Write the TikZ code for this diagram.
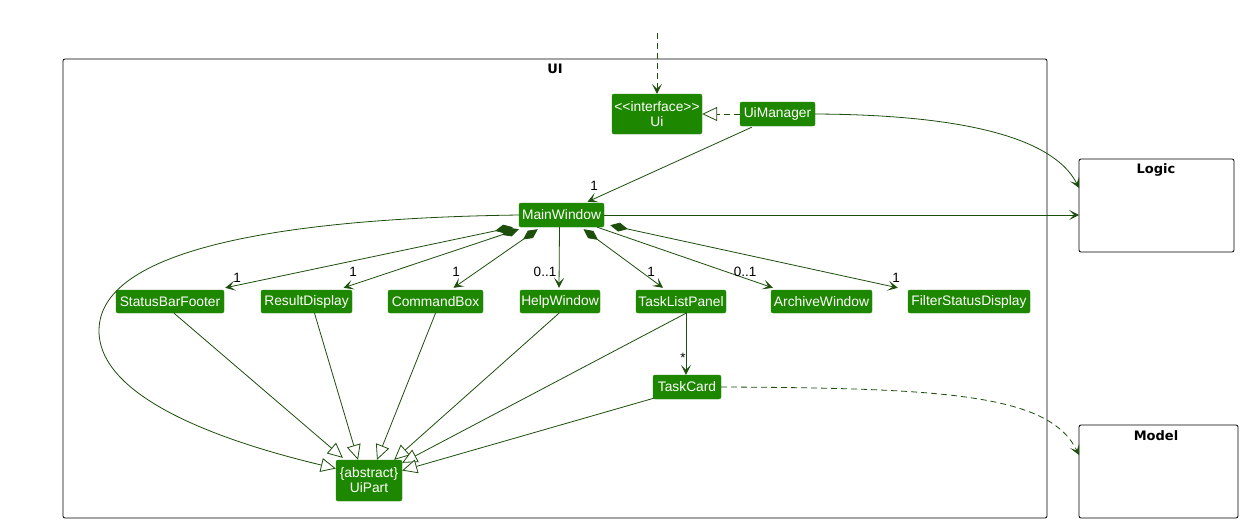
\documentclass[tikz,border=0pt]{standalone}
\usepackage{fontspec}
\setmainfont{Liberation Sans}
\newfontfamily\titlefont{DejaVu Sans}
\usetikzlibrary{arrows.meta,calc}
\definecolor{cfill}{RGB}{30,135,0}
\definecolor{cline}{RGB}{28,78,12}
\begin{document}
\begin{tikzpicture}[x=1pt,y=-1pt,
  cls/.style={draw=cfill, fill=cfill, text=white, rounded corners=2pt, inner sep=0pt,
    minimum height=24pt, font=\fontsize{13.8}{15}\selectfont, align=center},
  pkg/.style={draw=black, line width=0.8pt, rounded corners=2pt},
  ptitle/.style={font=\titlefont\fontsize{13}{15}\selectfont\bfseries, inner sep=0pt},
  mult/.style={font=\fontsize{13.5}{15}\selectfont, inner sep=0pt},
  con/.style={draw=cline, line width=0.8pt},
  assoc/.style={con, -{Stealth[length=10pt,width=10pt,inset=5pt]}},
  comp/.style={con, {Diamond[length=18pt,width=9pt]}-{Stealth[length=10pt,width=10pt,inset=5pt]}},
  inh/.style={con, -{Triangle[open,length=15pt,width=14pt,fill=white]}},
  real/.style={con, dash pattern=on 6pt off 4pt, -{Triangle[open,length=15pt,width=14pt,fill=white]}},
  dep/.style={con, dash pattern=on 6pt off 4pt, -{Stealth[length=10pt,width=10pt,inset=5pt]}}
]
\useasboundingbox (0,0) rectangle (1241,523);
\fill[white] (0,0) rectangle (1241,523);

% packages
\draw[pkg] (63,59) rectangle (1047,518);
\node[ptitle] (uit) at (555,69) {UI};
\draw[pkg] (1079,159) rectangle (1234,252);
\node[ptitle] (logict) at (1156,170) {Logic};
\draw[pkg] (1079,425) rectangle (1238,518);
\node[ptitle] (modelt) at (1156,436) {Model};
\coordinate (logicTop) at (1079,188);
\coordinate (logicMid) at (1079,215);
\coordinate (modelIn) at (1079,455);

% classes
\node[cls, minimum width=90pt, minimum height=40pt] (ui) at (657,114) {{<}{<}interface{>}{>}\\Ui};
\node[cls, minimum width=75pt] (uim) at (777.5,114) {UiManager};
\node[cls, minimum width=85pt] (mw) at (561.5,215) {MainWindow};
\node[cls, minimum width=108pt, minimum height=23pt] (sbf) at (170,301.5) {StatusBarFooter};
\node[cls, minimum width=91pt, minimum height=23pt] (rd) at (306.5,301.5) {ResultDisplay};
\node[cls, minimum width=95pt, minimum height=23pt] (cb) at (435.5,301.5) {CommandBox};
\node[cls, minimum width=80pt, minimum height=23pt] (hw) at (560,301.5) {HelpWindow};
\node[cls, minimum width=90pt, minimum height=23pt] (tlp) at (681,301.5) {TaskListPanel};
\node[cls, minimum width=101pt, minimum height=23pt] (aw) at (821.5,301.5) {ArchiveWindow};
\node[cls, minimum width=122pt, minimum height=23pt] (fsd) at (969,301.5) {FilterStatusDisplay};
\node[cls, minimum width=68pt] (tc) at (687,387) {TaskCard};
\node[cls, minimum width=66pt, minimum height=41pt] (up) at (369,480.5) {\{abstract\}\\UiPart};

% external dependency into Ui
\coordinate (ext) at (657,33);
\draw[dep] (ext) -- (ui.north);

% realization
\draw[real] (uim.west) -- (ui.east);

% UiManager -> MainWindow
\draw[assoc] ($(uim.south west)+(12,1)$) -- ($(mw.north)+(26,-1)$);
\node[mult] (m0) at (594,186) {1};

% UiManager -> Logic
\draw[assoc] (uim.east) .. controls (1000,115) and (1060,150) .. (logicTop);
% MainWindow -> Logic
\draw[assoc] (mw.east) -- (logicMid);

% compositions / associations from MainWindow
\draw[comp] ($(mw.south west)+(-6,0)$) -- ($(sbf.north east)+(1,-2)$);
\draw[comp] ($(mw.south west)+(0,2)$) -- ($(rd.north)+(37,-2)$);
\draw[comp] ($(mw.south west)+(19,2)$) -- ($(cb.north)+(18,-2)$);
\draw[assoc] ($(mw.south)+(-2,0)$) -- ($(hw.north)+(-1,-2)$);
\draw[comp] ($(mw.south)+(22,2)$) -- ($(tlp.north)+(-18,-2)$);
\draw[assoc] ($(mw.south east)+(-7,0)$) -- ($(aw.north west)+(2,-2)$);
\draw[comp] ($(mw.south east)+(6,-2)$) -- ($(fsd.north west)+(-10,-2)$);

\node[mult] (m1) at (237,278) {1};
\node[mult] (m2) at (353,272) {1};
\node[mult] (m3) at (456,272) {1};
\node[mult] (m4) at (545,272) {0..1};
\node[mult] (m5) at (651,272) {1};
\node[mult] (m6) at (745,272) {0..1};
\node[mult] (m7) at (896,278) {1};

% TaskListPanel -> TaskCard
\draw[assoc] ($(tlp.south)+(5,0)$) -- ($(tc.north)+(-1,0)$);
\node[mult] (m8) at (683,358) {*};

% TaskCard -> Model
\draw[dep] (tc.east) .. controls (950,388) and (1050,395) .. (modelIn);

% inheritance to UiPart
\draw[inh] (mw.west) .. controls (300,218) and (100,245) .. (99,330)
   .. controls (98,405) and (250,448) .. ($(up.west)+(0,-12)$);
\draw[inh] ($(sbf.south)+(4,0)$) -- ($(up.north west)+(7,-2)$);
\draw[inh] ($(rd.south)+(8,0)$) -- ($(up.north)+(-11,0)$);
\draw[inh] (cb.south) -- ($(up.north)+(8,0)$);
\draw[inh] ($(hw.south)+(-1,0)$) -- ($(up.north east)+(-8,0)$);
\draw[inh] ($(tlp.south)+(5,0)$) -- ($(up.north east)+(0,3)$);
\draw[inh] ($(tc.south west)+(1,-1)$) -- ($(up.east)+(0,-10)$);
\end{tikzpicture}
\end{document}
